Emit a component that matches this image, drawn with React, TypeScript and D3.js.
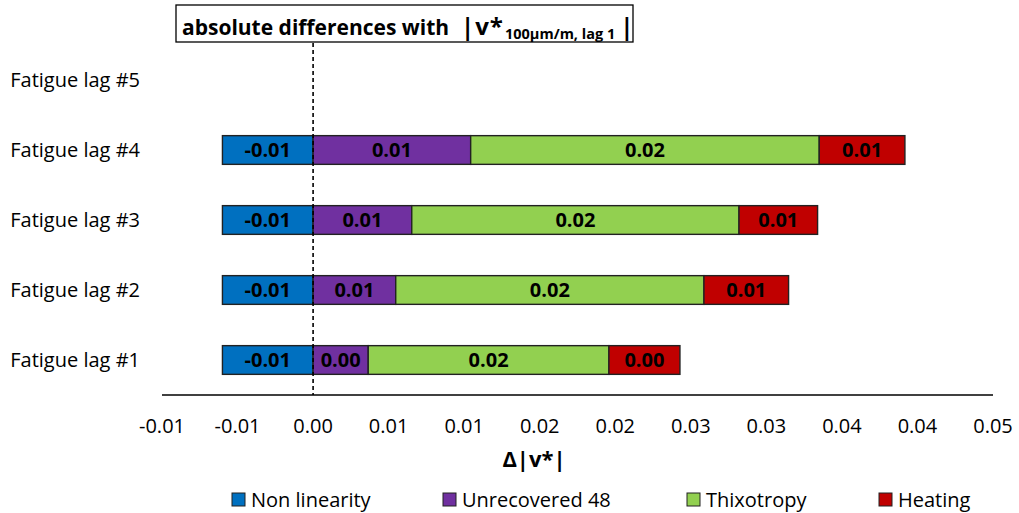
import React from 'react';
import * as d3 from 'd3';

const categories = ['Fatigue lag #5', 'Fatigue lag #4', 'Fatigue lag #3', 'Fatigue lag #2', 'Fatigue lag #1'];
const seriesNames = ['Non linearity', 'Unrecovered 48', 'Thixotropy', 'Heating'];
const nonLinearity = [0, -0.006, -0.006, -0.006, -0.006];
const unrecovered48 = [0, 0.01043, 0.00653, 0.00547, 0.00365];
const thixotropy = [0, 0.02307, 0.02166, 0.0204, 0.01593];
const heating = [0, 0.00567, 0.0052, 0.0056, 0.0047];
const seriesColors = ['#0070C0', '#7030A0', '#92D050', '#C00000'];
const xTickValues = [-0.01, -0.005, 0, 0.005, 0.01, 0.015, 0.02, 0.025, 0.03, 0.035, 0.04, 0.045];
const xTickLabels = ['-0.01', '-0.01', '0.00', '0.01', '0.01', '0.02', '0.02', '0.03', '0.03', '0.04', '0.04', '0.05'];

const W = 1019;
const H = 513;
const FONT = "'Open Sans', 'DejaVu Sans', sans-serif";
const legendX = [232, 443, 687, 879];

export default function App() {
  const x = d3.scaleLinear().domain([-0.01, 0.045]).range([162, 993]);
  const y = d3.scaleBand<string>().domain(categories).range([45, 395]).paddingInner(0.59).paddingOuter(0.295);

  const seriesValues = [nonLinearity, unrecovered48, thixotropy, heating];
  const rows = categories.map((c, i) => {
    const r: any = { cat: c };
    seriesNames.forEach((s, j) => (r[s] = seriesValues[j][i]));
    return r;
  });
  const stacked = d3.stack<any>().keys(seriesNames).offset(d3.stackOffsetDiverging)(rows);
  const locale = d3.formatLocale({ decimal: '.', thousands: ',', grouping: [3], currency: ['', ''], minus: '-' });
  const fmt = locale.format('.2f');

  return (
    <svg width={W} height={H} style={{ position: 'absolute', left: 0, top: 0, background: '#fff' }} fontFamily={FONT}>
      <rect x={0} y={0} width={W} height={H} fill="#fff" />
      {/* title */}
      <rect x={176} y={5} width={457} height={37} fill="#fff" stroke="#000" strokeWidth={1.3} />
      <text x={182} y={35} fontWeight="bold" fontSize={21} fill="#000">
        absolute differences with
        <tspan x={461} fontSize={24} letterSpacing={1}>|v*</tspan>
        <tspan fontSize={14.5} dy={3.5} dx={1}>100µm/m, lag 1</tspan>
        <tspan dy={-3.5} dx={5} fontSize={24}>|</tspan>
      </text>

      {/* bars */}
      {stacked.map((layer, si) =>
        layer.map((d, ci) => {
          const v = seriesValues[si][ci];
          if (!v) return null;
          const x0 = x(Math.min(d[0], d[1]));
          const x1 = x(Math.max(d[0], d[1]));
          const yy = y(categories[ci])!;
          const bw = y.bandwidth();
          return (
            <g key={`${si}-${ci}`}>
              <rect x={x0} y={yy} width={x1 - x0} height={bw} fill={seriesColors[si]} stroke="#222" strokeWidth={1.4} />
              <text
                x={(x0 + x1) / 2}
                y={yy + bw / 2}
                dy="0.36em"
                textAnchor="middle"
                fontWeight="bold"
                fontSize={20}
                fill="#000"
              >
                {fmt(v)}
              </text>
            </g>
          );
        })
      )}

      {/* zero dashed line */}
      <line x1={x(0)} x2={x(0)} y1={43} y2={395} stroke="#000" strokeWidth={1.6} strokeDasharray="4,3" />

      {/* x axis */}
      <line x1={x(-0.01)} x2={x(0.045)} y1={395} y2={395} stroke="#000" strokeWidth={1.3} />
      {xTickValues.map((t, i) => (
        <text key={i} x={x(t)} y={433} textAnchor="middle" fontSize={20} fill="#000">
          {xTickLabels[i]}
        </text>
      ))}
      <text x={534} y={467} textAnchor="middle" fontWeight="bold" fontSize={22} fill="#000">
        Δ|v*|
      </text>

      {/* y labels */}
      {categories.map((c) => (
        <text key={c} x={140} y={y(c)! + y.bandwidth() / 2} dy="0.36em" textAnchor="end" fontSize={20} fill="#000">
          {c}
        </text>
      ))}

      {/* legend */}
      {seriesNames.map((s, i) => (
        <g key={s}>
          <rect x={legendX[i]} y={493} width={13} height={13} fill={seriesColors[i]} stroke="#222" strokeWidth={1} />
          <text x={legendX[i] + 19} y={506.5} fontSize={20} fill="#000">
            {s}
          </text>
        </g>
      ))}
    </svg>
  );
}
